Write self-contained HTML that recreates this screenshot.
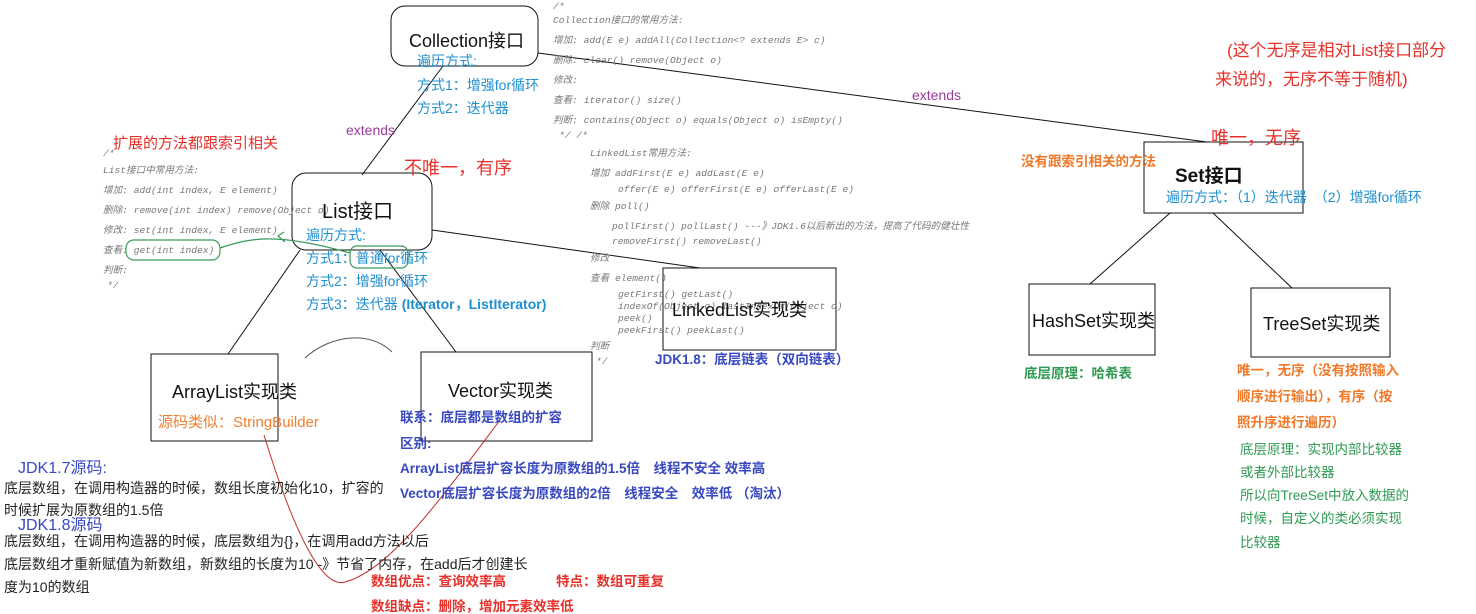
<!DOCTYPE html>
<html><head><meta charset="utf-8"><style>
html,body{margin:0;padding:0;background:#fff;}
svg{display:block;}
text{font-family:"Liberation Sans","Noto Sans CJK SC",sans-serif;}
.c text{font-family:"Liberation Mono","Noto Sans CJK SC",monospace;font-style:italic;font-size:9.6px;fill:#777;}
.b{fill:#1e8fcf;font-size:14px;}
.bb{fill:#3848c0;font-size:13.5px;font-weight:bold;}
.k{fill:#222;font-size:14px;}
.r{fill:#e8302a;}
.g{fill:#2e9a52;font-size:13.5px;}
.o{fill:#f07828;font-size:13.5px;font-weight:bold;}
</style></head><body>
<svg width="1476" height="614" viewBox="0 0 1476 614" xmlns="http://www.w3.org/2000/svg">
<g stroke="#111" stroke-width="1" fill="none">
<line x1="538" y1="53" x2="1207" y2="142"/>
<line x1="443" y1="66" x2="362" y2="175"/>
<line x1="432" y1="230" x2="700" y2="268"/>
<line x1="300" y1="250" x2="228" y2="354"/>
<line x1="380" y1="250" x2="456" y2="352"/>
<line x1="1170" y1="213" x2="1090" y2="284"/>
<line x1="1213" y1="213" x2="1292" y2="288"/>
<rect x="391" y="6" width="147" height="60" rx="14" fill="#fff"/>
<rect x="292" y="173" width="140" height="77" rx="14" fill="none"/>
<rect x="663" y="268" width="173" height="82"/>
<rect x="151" y="354" width="127" height="87"/>
<rect x="421" y="352" width="171" height="89"/>
<rect x="1144" y="142" width="159" height="71"/>
<rect x="1029" y="284" width="126" height="71"/>
<rect x="1251" y="288" width="139" height="69"/>
</g>
<path d="M305,358 C330,335 370,330 392,352" stroke="#555" fill="none"/>
<path d="M264,435 C290,520 320,590 345,582 C390,570 440,500 500,420" stroke="#c0302a" fill="none"/>
<g stroke="#3a9a5a" fill="none" stroke-width="1.2">
<rect x="126" y="240" width="94" height="20" rx="8"/>
<rect x="350" y="246" width="58" height="22" rx="7"/>
<path d="M220,248 C250,238 275,232 350,253"/>
<path d="M284,232 L278,236 L285,242"/>
</g>
<text x="409" y="47" font-size="18" fill="#111">Collection接口</text>
<text x="417" y="66" class="b">遍历方式:</text>
<text x="417" y="90" class="b">方式1：增强for循环</text>
<text x="417" y="113" class="b">方式2：迭代器</text>
<text x="346" y="135" font-size="14" fill="#9a3a9a">extends</text>
<text x="912" y="100" font-size="14" fill="#9a3a9a">extends</text>
<g class="c">
<text x="553" y="9">/*</text>
<text x="553" y="23">Collection接口的常用方法:</text>
<text x="553" y="43">增加: add(E e) addAll(Collection&lt;? extends E&gt; c)</text>
<text x="553" y="63">删除: clear() remove(Object o)</text>
<text x="553" y="83">修改:</text>
<text x="553" y="103">查看: iterator() size()</text>
<text x="553" y="123">判断: contains(Object o)  equals(Object o) isEmpty()</text>
<text x="559" y="138">*/   /*</text>
<text x="590" y="156">LinkedList常用方法:</text>
<text x="590" y="176">增加 addFirst(E e) addLast(E e)</text>
<text x="618" y="192">offer(E e) offerFirst(E e) offerLast(E e)</text>
<text x="590" y="209">删除 poll()</text>
<text x="612" y="229">pollFirst() pollLast()  ---》JDK1.6以后新出的方法，提高了代码的健壮性</text>
<text x="612" y="244">removeFirst() removeLast()</text>
<text x="590" y="261">修改</text>
<text x="590" y="281">查看 element()</text>
<text x="618" y="297">getFirst()  getLast()</text>
<text x="618" y="309">indexOf(Object o)  lastIndexOf(Object o)</text>
<text x="618" y="321">peek()</text>
<text x="618" y="333">peekFirst() peekLast()</text>
<text x="590" y="349">判断</text>
<text x="596" y="364">*/</text>
<text x="103" y="156">/*</text>
<text x="103" y="173">List接口中常用方法:</text>
<text x="103" y="193">增加: add(int index, E element)</text>
<text x="103" y="213">删除: remove(int index)  remove(Object o)</text>
<text x="103" y="233">修改: set(int index, E element)</text>
<text x="103" y="253">查看: get(int index)</text>
<text x="103" y="273">判断:</text>
<text x="107" y="288">*/</text>
</g>
<text x="113" y="148" font-size="15" class="r">扩展的方法都跟索引相关</text>
<text x="404" y="174" font-size="18" class="r">不唯一，有序</text>
<text x="322" y="218" font-size="20" fill="#111">List接口</text>
<text x="306" y="240" class="b">遍历方式:</text>
<text x="306" y="263" class="b">方式1：普通for循环</text>
<text x="306" y="286" class="b">方式2：增强for循环</text>
<text x="306" y="309" class="b">方式3：迭代器 <tspan font-weight="bold">(Iterator，ListIterator)</tspan></text>
<text x="672" y="316" font-size="18" fill="#111">LinkedList实现类</text>
<text x="655" y="364" class="bb">JDK1.8：底层链表（双向链表）</text>
<text x="172" y="398" font-size="18" fill="#111">ArrayList实现类</text>
<text x="158" y="427" font-size="15" fill="#f08030">源码类似：StringBuilder</text>
<text x="448" y="397" font-size="18" fill="#111">Vector实现类</text>
<text x="400" y="422" class="bb">联系：底层都是数组的扩容</text>
<text x="400" y="448" class="bb">区别:</text>
<text x="400" y="473" class="bb">ArrayList底层扩容长度为原数组的1.5倍　线程不安全  效率高</text>
<text x="400" y="498" class="bb">Vector底层扩容长度为原数组的2倍　线程安全　效率低 （淘汰）</text>
<text x="18" y="473" font-size="16" fill="#3848c0">JDK1.7源码:</text>
<text x="4" y="493" class="k">底层数组，在调用构造器的时候，数组长度初始化10，扩容的</text>
<text x="4" y="515" class="k">时候扩展为原数组的1.5倍</text>
<text x="18" y="530" font-size="16" fill="#3848c0">JDK1.8源码</text>
<text x="4" y="546" class="k">底层数组，在调用构造器的时候，底层数组为{}，在调用add方法以后</text>
<text x="4" y="569" class="k">底层数组才重新赋值为新数组，新数组的长度为10 -》节省了内存，在add后才创建长</text>
<text x="4" y="592" class="k">度为10的数组</text>
<text x="371" y="586" font-size="13.5" font-weight="bold" class="r">数组优点：查询效率高</text>
<text x="556" y="586" font-size="13.5" font-weight="bold" class="r">特点：数组可重复</text>
<text x="371" y="611" font-size="13.5" font-weight="bold" class="r">数组缺点：删除，增加元素效率低</text>
<text x="1227" y="56" font-size="17" class="r">(这个无序是相对List接口部分</text>
<text x="1215" y="85" font-size="17" class="r">来说的，无序不等于随机)</text>
<text x="1211" y="144" font-size="18" class="r">唯一，无序</text>
<text x="1021" y="166" class="o">没有跟索引相关的方法</text>
<text x="1175" y="182" font-size="19" font-weight="bold" fill="#111">Set接口</text>
<text x="1166" y="202" class="b">遍历方式：（1）迭代器　（2）增强for循环</text>
<text x="1032" y="327" font-size="18" fill="#111">HashSet实现类</text>
<text x="1263" y="330" font-size="18" fill="#111">TreeSet实现类</text>
<text x="1024" y="378" class="g" font-weight="bold">底层原理：哈希表</text>
<text x="1237" y="375" class="o">唯一，无序（没有按照输入</text>
<text x="1237" y="401" class="o">顺序进行输出），有序（按</text>
<text x="1237" y="427" class="o">照升序进行遍历）</text>
<text x="1240" y="454" class="g">底层原理：实现内部比较器</text>
<text x="1240" y="477" class="g">或者外部比较器</text>
<text x="1240" y="500" class="g">所以向TreeSet中放入数据的</text>
<text x="1240" y="523" class="g">时候，自定义的类必须实现</text>
<text x="1240" y="547" class="g">比较器</text>
</svg>
</body></html>
